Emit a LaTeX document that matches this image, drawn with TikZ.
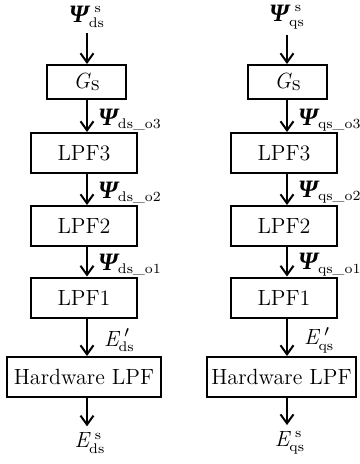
\documentclass[tikz,border=0pt]{standalone}
\usepackage{amsmath}
\usepackage{fontspec}
\newfontfamily\grkfont{Liberation Serif}
\usetikzlibrary{arrows.meta, positioning}

\newcommand{\Fx}{\mbox{\grkfont\bfseries\itshape\fontsize{12.5}{14}\selectfont Ψ}}
\newcommand{\Ix}[1]{\text{\fontsize{7}{8}\selectfont #1}}

\begin{document}
\begin{tikzpicture}[x=0.5pt, y=-0.5pt,
  blk/.style={draw, line width=1pt, inner sep=0pt, minimum height=20pt,
    font=\fontsize{11}{13}\selectfont},
  lbl/.style={inner sep=0pt, font=\fontsize{11}{13}\selectfont},
  flow/.style={line width=1pt, -{Straight Barb[length=4.5pt, width=6.5pt, line width=1pt]}}]

\useasboundingbox (0,0) rectangle (359,464);

\def\xl{87}
\def\xr{287}

\coordinate (axL) at (\xl,0);
\coordinate (axR) at (\xr,0);

% d-axis column
\node[lbl] (inL) at (\xl,17) {$\Fx_{\Ix{ds}}^{\,\,\Ix{s}}$};
\node[blk, minimum width=39.5pt, minimum height=17pt] (gsL) at (86.5,82) {\textit{G}\raisebox{-0.2ex}{s}};
\node[blk, minimum width=53pt] (lpf3L) at (84,153) {LPF3};
\node[blk, minimum width=53pt] (lpf2L) at (84,226) {LPF2};
\node[blk, minimum width=53pt] (lpf1L) at (84,297.5) {LPF1};
\node[blk, minimum width=77pt] (hwL) at (84,377) {Hardware LPF};
\node[lbl] (outL) at (90,443) {$\textit{E}_{\Ix{ds}}^{\,\,\Ix{s}}$};

\draw[flow, shorten <=2.5pt] (inL.south -| axL) -- (gsL.north -| axL);
\draw[flow] (gsL.south -| axL) -- (lpf3L.north -| axL)
  node[midway, right=5pt, lbl, yshift=-2pt] {$\Fx_{\Ix{ds\_o3}}$};
\draw[flow] (lpf3L.south -| axL) -- (lpf2L.north -| axL)
  node[midway, right=5pt, lbl, yshift=-1.5pt] {$\Fx_{\Ix{ds\_o2}}$};
\draw[flow] (lpf2L.south -| axL) -- (lpf1L.north -| axL)
  node[midway, right=5pt, lbl, yshift=-1.5pt] {$\Fx_{\Ix{ds\_o1}}$};
\draw[flow] (lpf1L.south -| axL) -- (hwL.north -| axL)
  node[midway, right=8pt, lbl, yshift=-1.5pt] {$\textit{E}_{\Ix{ds}}^{\,\,\prime}$};
\draw[flow, shorten >=3pt] (hwL.south -| axL) -- (outL.north -| axL);

% q-axis column
\node[lbl] (inR) at (\xr,17) {$\Fx_{\Ix{qs}}^{\,\,\Ix{s}}$};
\node[blk, minimum width=39.5pt, minimum height=17pt] (gsR) at (287.5,82) {\textit{G}\raisebox{-0.2ex}{s}};
\node[blk, minimum width=53pt] (lpf3R) at (284,153) {LPF3};
\node[blk, minimum width=53pt] (lpf2R) at (284,226) {LPF2};
\node[blk, minimum width=53pt] (lpf1R) at (284,297.5) {LPF1};
\node[blk, minimum width=74.5pt] (hwR) at (281.5,377) {Hardware LPF};
\node[lbl] (outR) at (290,443) {$\textit{E}_{\Ix{qs}}^{\,\,\Ix{s}}$};

\draw[flow, shorten <=2.5pt] (inR.south -| axR) -- (gsR.north -| axR);
\draw[flow] (gsR.south -| axR) -- (lpf3R.north -| axR)
  node[midway, right=5pt, lbl, yshift=-2pt] {$\Fx_{\Ix{qs\_o3}}$};
\draw[flow] (lpf3R.south -| axR) -- (lpf2R.north -| axR)
  node[midway, right=5pt, lbl, yshift=-1.5pt] {$\Fx_{\Ix{qs\_o2}}$};
\draw[flow] (lpf2R.south -| axR) -- (lpf1R.north -| axR)
  node[midway, right=5pt, lbl, yshift=-1.5pt] {$\Fx_{\Ix{qs\_o1}}$};
\draw[flow] (lpf1R.south -| axR) -- (hwR.north -| axR)
  node[midway, right=8pt, lbl, yshift=-1.5pt] {$\textit{E}_{\Ix{qs}}^{\,\,\prime}$};
\draw[flow, shorten >=3pt] (hwR.south -| axR) -- (outR.north -| axR);

\end{tikzpicture}
\end{document}
